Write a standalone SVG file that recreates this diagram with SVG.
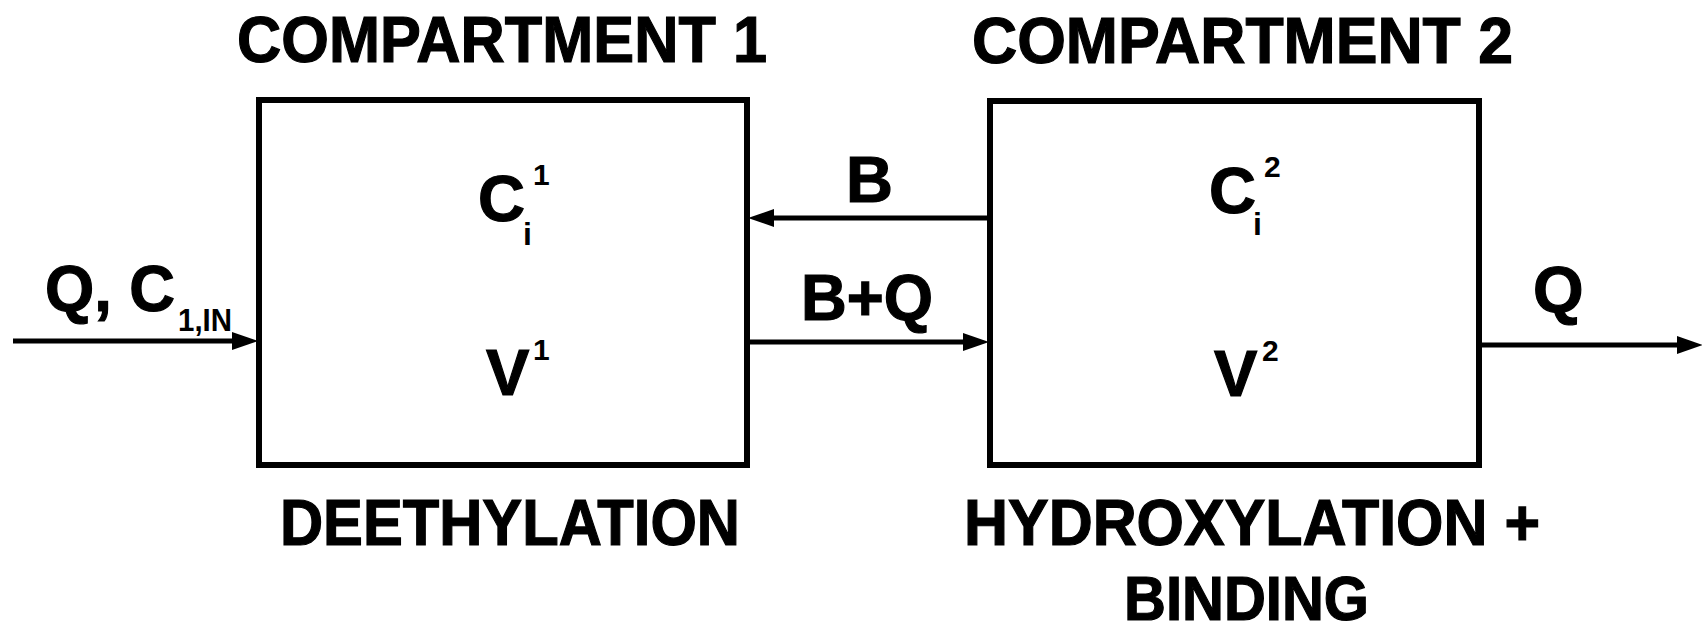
<svg xmlns="http://www.w3.org/2000/svg" width="1702" height="635" viewBox="0 0 1702 635">
<style>
  .t { font-family: "Liberation Sans", Arial, Helvetica, sans-serif; font-weight: bold; fill: #000; }
  .big { font-size: 65px; stroke: #000; stroke-width: 1.2; }
  .sup { font-size: 30px; }
  .sub { font-size: 32px; }
  .box { fill: #fff; stroke: #000; stroke-width: 6; }
  .edge { stroke: #000; stroke-width: 5; fill: none; marker-end: url(#arrow); }
</style>
<defs>
  <marker id="arrow" markerUnits="userSpaceOnUse" markerWidth="26" markerHeight="20" viewBox="0 0 26 20" refX="12" refY="10" orient="auto">
    <path d="M0,1 L26,10 L0,19 z" fill="#000"/>
  </marker>
</defs>
<rect width="1702" height="635" fill="#fff"/>

<g id="compartment1">
  <text class="t big" x="237" y="62" textLength="530" lengthAdjust="spacingAndGlyphs">COMPARTMENT 1</text>
  <rect class="box" x="259" y="100" width="488" height="365"/>
  <text class="t big" x="478" y="221">C</text>
  <text class="t sup" x="533" y="185">1</text>
  <text class="t sub" x="523" y="245">i</text>
  <text class="t big" x="486" y="395">V</text>
  <text class="t sup" x="533" y="360">1</text>
  <text class="t big" x="280" y="545" textLength="460" lengthAdjust="spacingAndGlyphs">DEETHYLATION</text>
</g>

<g id="compartment2">
  <text class="t big" x="972" y="63" textLength="541" lengthAdjust="spacingAndGlyphs">COMPARTMENT 2</text>
  <rect class="box" x="990" y="101" width="489" height="364"/>
  <text class="t big" x="1209" y="213">C</text>
  <text class="t sup" x="1264" y="177">2</text>
  <text class="t sub" x="1253" y="235">i</text>
  <text class="t big" x="1214" y="396">V</text>
  <text class="t sup" x="1262" y="361">2</text>
  <text class="t big" x="964" y="545" textLength="576" lengthAdjust="spacingAndGlyphs">HYDROXYLATION +</text>
  <text class="t big" x="1124" y="620" style="font-size:63px" textLength="245" lengthAdjust="spacingAndGlyphs">BINDING</text>
</g>

<g id="connectors">
  <line class="edge" x1="13" y1="341" x2="244" y2="341"/>
  <line class="edge" x1="988" y1="218" x2="762" y2="218"/>
  <line class="edge" x1="750" y1="342" x2="975" y2="342"/>
  <line class="edge" x1="1482" y1="345" x2="1689" y2="345"/>
  <text class="t big" x="45" y="311" textLength="130" lengthAdjust="spacingAndGlyphs">Q, C</text>
  <text class="t sub" x="178" y="331" textLength="54" lengthAdjust="spacingAndGlyphs">1,IN</text>
  <text class="t big" x="846" y="202">B</text>
  <text class="t big" x="801" y="320" textLength="132" lengthAdjust="spacingAndGlyphs">B+Q</text>
  <text class="t big" x="1533" y="312">Q</text>
</g>
</svg>
